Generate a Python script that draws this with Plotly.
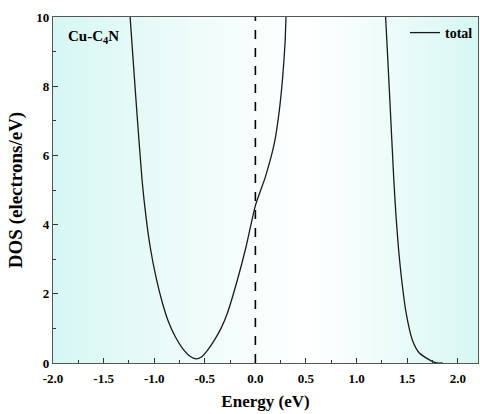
import plotly.graph_objects as go

# DOS data
energy_left = [-1.30, -1.238, -1.18, -1.12, -1.08, -1.04, -0.98, -0.92, -0.86, -0.79, -0.72, -0.65, -0.586,
               -0.53, -0.47, -0.405, -0.34, -0.277, -0.178, -0.092, 0.0, 0.099, 0.188,
               0.237, 0.27, 0.293, 0.303, 0.32]
dos_left = [12.5, 10.0, 7.6, 5.29, 4.2, 3.36, 2.45, 1.75, 1.2, 0.75, 0.42, 0.2, 0.12,
            0.18, 0.38, 0.66, 1.0, 1.44, 2.4, 3.36, 4.55, 5.38, 6.36,
            7.31, 8.27, 9.24, 10.0, 11.0]
energy_right = [1.25, 1.287, 1.329, 1.368, 1.388, 1.413, 1.446, 1.490, 1.552, 1.62, 1.72,
                1.76, 1.80, 1.85]
dos_right = [12.0, 10.0, 7.6, 5.29, 4.33, 3.36, 2.4, 1.44, 0.66, 0.29, 0.09,
             0.03, 0.0, 0.0]

x_ticks = [-2.0, -1.5, -1.0, -0.5, 0.0, 0.5, 1.0, 1.5, 2.0]
y_ticks = [0, 2, 4, 6, 8, 10]

FONT = "Liberation Serif"

energy = energy_left + [None] + energy_right
dos = dos_left + [None] + dos_right

fig = go.Figure()
fig.add_trace(go.Scatter(x=energy, y=dos, mode="lines", name="<b>total</b>",
                         line=dict(color="#1a1a1a", width=1.3, shape="spline", smoothing=0.6),
                         connectgaps=False, hoverinfo="skip"))

# background gradient (cyan at edges, white in middle)
edge = (214, 247, 243)
n = 60
center = 0.6
for i in range(n):
    x0 = i / n
    x1 = (i + 1) / n
    xm = (x0 + x1) / 2
    if xm < center:
        t = 1 - xm / center
    else:
        t = (xm - center) / (1 - center)
    t = max(0.0, min(1.0, t)) ** 1.1
    c = tuple(int(round(255 + (e - 255) * t)) for e in edge)
    fig.add_shape(type="rect", xref="paper", yref="paper", x0=x0, x1=x1 + 0.002, y0=0, y1=1,
                  line=dict(width=0), fillcolor="rgb(%d,%d,%d)" % c, layer="below")

# Fermi level
fig.add_shape(type="line", xref="x", yref="paper", x0=0, x1=0, y0=0, y1=1,
              line=dict(color="black", width=1.6, dash="dash"))

fig.add_annotation(xref="paper", yref="paper", x=0.03, y=0.975, xanchor="left", yanchor="top",
                   text="<b>Cu-C<sub>4</sub>N</b>", showarrow=False,
                   font=dict(family=FONT, size=15, color="black"))

fig.update_layout(
    width=480, height=414,
    margin=dict(l=53, r=2, t=17, b=51),
    paper_bgcolor="white", plot_bgcolor="white",
    font=dict(family=FONT, color="black"),
    showlegend=True,
    legend=dict(x=1.0, y=1.0, xanchor="right", yanchor="top", bgcolor="rgba(0,0,0,0)",
                font=dict(family=FONT, size=14, color="black"),
                tracegroupgap=0),
    xaxis=dict(range=[-2.0, 2.2], tickvals=x_ticks, ticktext=["<b>%.1f</b>" % v for v in x_ticks],
               ticks="inside", ticklen=5, tickwidth=1, tickcolor="#333",
               minor=dict(dtick=0.25, tick0=0, ticks="inside", ticklen=3, tickcolor="#333"),
               showline=True, linecolor="#555", linewidth=1.2, mirror=True,
               showgrid=False, zeroline=False, automargin=False, ticklabelstandoff=3,
               tickfont=dict(family=FONT, size=13, color="black"),
               title=dict(text="<b>Energy (eV)</b>", font=dict(family=FONT, size=17, color="black"),
                          standoff=10)),
    yaxis=dict(range=[0, 10], tickvals=y_ticks, ticktext=["<b>%d</b>" % v for v in y_ticks],
               ticks="inside", ticklen=5, tickwidth=1, tickcolor="#333",
               minor=dict(dtick=1, tick0=0, ticks="inside", ticklen=3, tickcolor="#333"),
               showline=True, linecolor="#555", linewidth=1.2, mirror=True,
               showgrid=False, zeroline=False, automargin=False,
               tickfont=dict(family=FONT, size=13, color="black"),
               title=dict(text="<b>DOS (electrons/eV)</b>", font=dict(family=FONT, size=19, color="black"),
                          standoff=8)),
)
fig.write_html("out.html", config={"displayModeBar": False},
               post_script="document.body.style.margin='0';")
